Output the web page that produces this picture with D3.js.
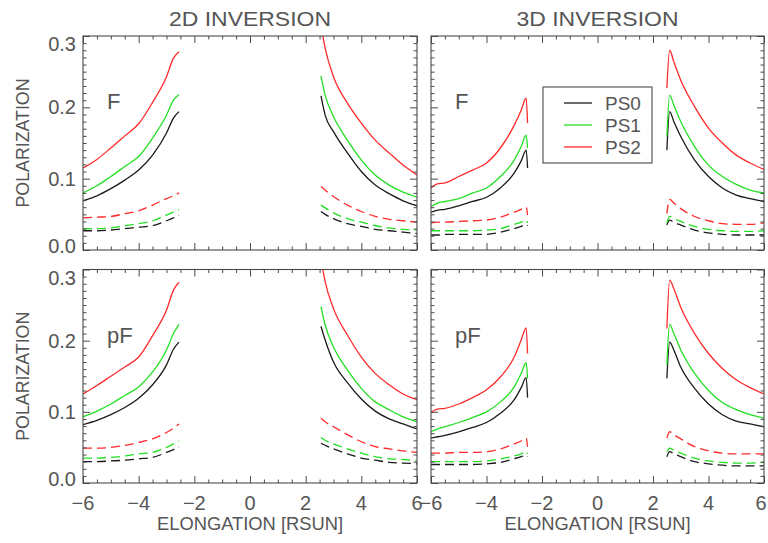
<!DOCTYPE html>
<html><head><meta charset="utf-8">
<script src="https://cdn.jsdelivr.net/npm/d3@7"></script>
<style>body{margin:0;background:#fff}svg{display:block}text{font-family:"Liberation Sans",Arial,sans-serif;fill:#555}</style>
</head><body>
<script>
// ---------- data ----------
const seriesNames = ["PS0", "PS1", "PS2"];
const panelTitles = ["2D INVERSION", "3D INVERSION"];
const panelLabels = ["F", "pF"];
const yTicks = [0.0, 0.1, 0.2, 0.3];
const yTickLabels = ["0.0", "0.1", "0.2", "0.3"];
const xTicks = [-6, -4, -2, 0, 2, 4, 6];
const xTickLabels = ["\u22126", "\u22124", "\u22122", "0", "2", "4", "6"];

const xLeft2D = [-6, -5.5, -5, -4.5, -4, -3.5, -3, -2.75, -2.55];
const xRight2D = [2.55, 2.7, 3, 3.5, 4, 4.5, 5, 5.5, 6];
const xLeft3D = [-6, -5.75, -5.5, -5, -4.5, -4, -3.5, -3, -2.75, -2.57, -2.52];
const xRight3D = [2.5, 2.6, 2.75, 3, 3.5, 4, 4.5, 5, 5.5, 6];

// 2D, F
const f2dL_PS0 = [0.069, 0.076, 0.086, 0.098, 0.112, 0.133, 0.164, 0.185, 0.194];
const f2dL_PS1 = [0.080, 0.090, 0.103, 0.117, 0.131, 0.157, 0.189, 0.210, 0.218];
const f2dL_PS2 = [0.115, 0.127, 0.143, 0.160, 0.177, 0.207, 0.243, 0.269, 0.278];
const f2dL_PS0d = [0.027, 0.027, 0.028, 0.030, 0.032, 0.034, 0.041, 0.045, 0.049];
const f2dL_PS1d = [0.030, 0.030, 0.031, 0.034, 0.037, 0.041, 0.049, 0.053, 0.057];
const f2dL_PS2d = [0.045, 0.046, 0.047, 0.051, 0.055, 0.063, 0.072, 0.076, 0.080];
const f2dR_PS0 = [0.216, 0.189, 0.166, 0.136, 0.110, 0.091, 0.079, 0.069, 0.062];
const f2dR_PS1 = [0.244, 0.217, 0.187, 0.154, 0.126, 0.105, 0.091, 0.081, 0.074];
const f2dR_PS2 = [0.315, 0.283, 0.243, 0.206, 0.178, 0.154, 0.136, 0.119, 0.105];
const f2dR_PS0d = [0.054, 0.050, 0.044, 0.037, 0.033, 0.029, 0.027, 0.025, 0.023];
const f2dR_PS1d = [0.063, 0.059, 0.052, 0.044, 0.039, 0.034, 0.031, 0.029, 0.028];
const f2dR_PS2d = [0.089, 0.084, 0.075, 0.063, 0.054, 0.047, 0.043, 0.041, 0.039];

// 2D, pF
const p2dL_PS0 = [0.082, 0.088, 0.096, 0.106, 0.119, 0.138, 0.166, 0.188, 0.198];
const p2dL_PS1 = [0.093, 0.101, 0.111, 0.123, 0.135, 0.156, 0.187, 0.210, 0.223];
const p2dL_PS2 = [0.125, 0.137, 0.150, 0.163, 0.177, 0.207, 0.243, 0.271, 0.282];
const p2dL_PS0d = [0.030, 0.030, 0.031, 0.032, 0.034, 0.036, 0.043, 0.047, 0.051];
const p2dL_PS1d = [0.035, 0.035, 0.036, 0.038, 0.041, 0.043, 0.050, 0.055, 0.059];
const p2dL_PS2d = [0.049, 0.049, 0.050, 0.053, 0.057, 0.062, 0.071, 0.077, 0.083];
const p2dR_PS0 = [0.220, 0.201, 0.170, 0.141, 0.118, 0.101, 0.090, 0.083, 0.076];
const p2dR_PS1 = [0.248, 0.222, 0.191, 0.159, 0.133, 0.114, 0.103, 0.093, 0.086];
const p2dR_PS2 = [0.315, 0.283, 0.245, 0.208, 0.177, 0.154, 0.138, 0.125, 0.117];
const p2dR_PS0d = [0.056, 0.053, 0.048, 0.041, 0.035, 0.032, 0.029, 0.028, 0.027];
const p2dR_PS1d = [0.064, 0.060, 0.055, 0.048, 0.042, 0.037, 0.034, 0.033, 0.031];
const p2dR_PS2d = [0.091, 0.086, 0.079, 0.068, 0.058, 0.051, 0.048, 0.045, 0.043];

// 3D, F
const f3dL_PS0 = [0.053, 0.056, 0.057, 0.062, 0.068, 0.074, 0.087, 0.108, 0.125, 0.140, 0.115];
const f3dL_PS1 = [0.061, 0.066, 0.068, 0.072, 0.080, 0.087, 0.103, 0.126, 0.145, 0.161, 0.143];
const f3dL_PS2 = [0.087, 0.093, 0.094, 0.103, 0.112, 0.122, 0.143, 0.175, 0.196, 0.213, 0.178];
const f3dL_PS0d = [0.021, 0.021, 0.022, 0.022, 0.022, 0.022, 0.025, 0.030, 0.033, 0.036, 0.034];
const f3dL_PS1d = [0.027, 0.027, 0.027, 0.027, 0.027, 0.028, 0.030, 0.036, 0.039, 0.042, 0.038];
const f3dL_PS2d = [0.038, 0.039, 0.039, 0.040, 0.041, 0.042, 0.046, 0.053, 0.057, 0.060, 0.049];
const f3dR_PS0 = [0.140, 0.194, 0.180, 0.159, 0.126, 0.103, 0.087, 0.077, 0.072, 0.068];
const f3dR_PS1 = [0.159, 0.217, 0.203, 0.180, 0.145, 0.119, 0.103, 0.092, 0.084, 0.080];
const f3dR_PS2 = [0.227, 0.280, 0.264, 0.238, 0.201, 0.171, 0.150, 0.133, 0.122, 0.113];
const f3dR_PS0d = [0.035, 0.042, 0.039, 0.035, 0.028, 0.024, 0.022, 0.021, 0.021, 0.021];
const f3dR_PS1d = [0.038, 0.047, 0.044, 0.040, 0.033, 0.029, 0.027, 0.026, 0.026, 0.027];
const f3dR_PS2d = [0.051, 0.071, 0.066, 0.058, 0.047, 0.041, 0.037, 0.036, 0.036, 0.038];

// 3D, pF
const p3dL_PS0 = [0.063, 0.065, 0.067, 0.072, 0.078, 0.085, 0.098, 0.117, 0.134, 0.148, 0.120];
const p3dL_PS1 = [0.072, 0.076, 0.079, 0.085, 0.092, 0.100, 0.114, 0.135, 0.154, 0.169, 0.147];
const p3dL_PS2 = [0.099, 0.104, 0.105, 0.111, 0.120, 0.131, 0.149, 0.177, 0.201, 0.218, 0.182];
const p3dL_PS0d = [0.026, 0.026, 0.026, 0.026, 0.026, 0.027, 0.029, 0.034, 0.037, 0.039, 0.037];
const p3dL_PS1d = [0.030, 0.030, 0.030, 0.030, 0.030, 0.031, 0.034, 0.038, 0.041, 0.044, 0.041];
const p3dL_PS2d = [0.042, 0.042, 0.042, 0.043, 0.043, 0.044, 0.048, 0.055, 0.059, 0.063, 0.051];
const p3dR_PS0 = [0.147, 0.198, 0.187, 0.163, 0.133, 0.111, 0.096, 0.087, 0.083, 0.079];
const p3dR_PS1 = [0.166, 0.223, 0.210, 0.187, 0.154, 0.130, 0.113, 0.103, 0.096, 0.091];
const p3dR_PS2 = [0.217, 0.285, 0.273, 0.247, 0.210, 0.182, 0.161, 0.145, 0.134, 0.125];
const p3dR_PS0d = [0.037, 0.044, 0.041, 0.037, 0.030, 0.027, 0.025, 0.024, 0.024, 0.024];
const p3dR_PS1d = [0.044, 0.049, 0.046, 0.042, 0.035, 0.031, 0.029, 0.028, 0.028, 0.029];
const p3dR_PS2d = [0.063, 0.072, 0.068, 0.062, 0.051, 0.045, 0.042, 0.041, 0.041, 0.041];

// ---------- assembly ----------
const panels = [
  {col: 0, row: 0, xl: xLeft2D, xr: xRight2D,
   solidL: [f2dL_PS0, f2dL_PS1, f2dL_PS2], dashL: [f2dL_PS0d, f2dL_PS1d, f2dL_PS2d],
   solidR: [f2dR_PS0, f2dR_PS1, f2dR_PS2], dashR: [f2dR_PS0d, f2dR_PS1d, f2dR_PS2d]},
  {col: 1, row: 0, xl: xLeft3D, xr: xRight3D,
   solidL: [f3dL_PS0, f3dL_PS1, f3dL_PS2], dashL: [f3dL_PS0d, f3dL_PS1d, f3dL_PS2d],
   solidR: [f3dR_PS0, f3dR_PS1, f3dR_PS2], dashR: [f3dR_PS0d, f3dR_PS1d, f3dR_PS2d]},
  {col: 0, row: 1, xl: xLeft2D, xr: xRight2D,
   solidL: [p2dL_PS0, p2dL_PS1, p2dL_PS2], dashL: [p2dL_PS0d, p2dL_PS1d, p2dL_PS2d],
   solidR: [p2dR_PS0, p2dR_PS1, p2dR_PS2], dashR: [p2dR_PS0d, p2dR_PS1d, p2dR_PS2d]},
  {col: 1, row: 1, xl: xLeft3D, xr: xRight3D,
   solidL: [p3dL_PS0, p3dL_PS1, p3dL_PS2], dashL: [p3dL_PS0d, p3dL_PS1d, p3dL_PS2d],
   solidR: [p3dR_PS0, p3dR_PS1, p3dR_PS2], dashR: [p3dR_PS0d, p3dR_PS1d, p3dR_PS2d]}
];

const colors = ["#1a1a1a", "#22e022", "#ff2a2a"];
const axisColor = "#4a4a4a";

const W = 768, H = 543;
const colX = [[83, 417], [431, 764]];
const rowY = [[36, 250], [269.5, 483]];

const svg = d3.select("body").append("svg").attr("width", W).attr("height", H);

panels.forEach((p, i) => {
  const [x0, x1] = colX[p.col];
  const [y0, y1] = rowY[p.row];
  const x = d3.scaleLinear().domain([-6, 6]).range([x0, x1]);
  const y = d3.scaleLinear().domain([0, 0.3]).range([y1, y0]);
  const g = svg.append("g");
  const clipId = "clip" + i;
  g.append("clipPath").attr("id", clipId).append("rect")
    .attr("x", x0).attr("y", y0).attr("width", x1 - x0).attr("height", y1 - y0);

  const line = d3.line().x(d => x(d[0])).y(d => y(d[1])).curve(d3.curveMonotoneX);
  const lines = g.append("g").attr("clip-path", `url(#${clipId})`);
  const draw = (xs, ys, color, dashed) => {
    lines.append("path").datum(xs.map((v, k) => [v, ys[k]]))
      .attr("d", line).attr("fill", "none").attr("stroke", color)
      .attr("stroke-width", 1.3)
      .attr("stroke-dasharray", dashed ? "9,5" : null);
  };
  [0, 1, 2].forEach(s => {
    draw(p.xl, p.dashL[s], colors[s], true);
    draw(p.xr, p.dashR[s], colors[s], true);
  });
  [0, 1, 2].forEach(s => {
    draw(p.xl, p.solidL[s], colors[s], false);
    draw(p.xr, p.solidR[s], colors[s], false);
  });

  // axes: ticks inward on all four sides
  const ax = g.append("g").attr("stroke", axisColor).attr("fill", "none");
  const majLen = 7, minLen = 3.5;
  const yMinor = d3.range(0, 31).map(k => k / 100);
  const xMinor = d3.range(-12, 13).map(k => k / 2);
  const yL = ax.append("g").attr("transform", `translate(${x0},0)`)
    .call(d3.axisRight(y).tickValues(yMinor).tickSizeInner(0).tickSizeOuter(0).tickFormat(""));
  yL.selectAll(".tick line").attr("x2", d => (Math.round(d * 100) % 10 === 0) ? majLen : minLen)
    .attr("stroke", axisColor);
  const yR = ax.append("g").attr("transform", `translate(${x1},0)`)
    .call(d3.axisLeft(y).tickValues(yMinor).tickSizeInner(0).tickSizeOuter(0).tickFormat(""));
  yR.selectAll(".tick line").attr("x2", d => (Math.round(d * 100) % 10 === 0) ? -majLen : -minLen)
    .attr("stroke", axisColor);
  const xB = ax.append("g").attr("transform", `translate(0,${y1})`)
    .call(d3.axisTop(x).tickValues(xMinor).tickSizeInner(0).tickSizeOuter(0).tickFormat(""));
  xB.selectAll(".tick line").attr("y2", d => (Math.round(d * 2) % 4 === 0) ? -majLen : -minLen)
    .attr("stroke", axisColor);
  const xT = ax.append("g").attr("transform", `translate(0,${y0})`)
    .call(d3.axisBottom(x).tickValues(xMinor).tickSizeInner(0).tickSizeOuter(0).tickFormat(""));
  xT.selectAll(".tick line").attr("y2", d => (Math.round(d * 2) % 4 === 0) ? majLen : minLen)
    .attr("stroke", axisColor);
  ax.selectAll(".domain").remove();
  ax.append("rect").attr("x", x0).attr("y", y0).attr("width", x1 - x0).attr("height", y1 - y0)
    .attr("stroke", axisColor).attr("stroke-width", 1.1).attr("fill", "none");

  // y tick labels (left column only)
  if (p.col === 0) {
    yTicks.forEach((v, k) => {
      const off = v === 0.3 ? 8 : (v === 0 ? -4 : 0);
      g.append("text").attr("x", x0 - 7).attr("y", y(v) + off)
        .attr("text-anchor", "end").attr("dominant-baseline", "central")
        .attr("font-size", 20).text(yTickLabels[k]);
    });
    const cy = (y0 + y1) / 2;
    g.append("text").attr("transform", `translate(23,${cy}) rotate(-90)`)
      .attr("text-anchor", "middle").attr("dominant-baseline", "central")
      .attr("font-size", 18).attr("textLength", 129).attr("lengthAdjust", "spacingAndGlyphs")
      .text("POLARIZATION");
  }
  // x tick labels (bottom row only)
  if (p.row === 1) {
    xTicks.forEach((v, k) => {
      const last = p.col === 1 && k === xTicks.length - 1;
      g.append("text").attr("x", last ? x(v) - 3 : x(v)).attr("y", 510)
        .attr("text-anchor", "middle").attr("font-size", 20).text(xTickLabels[k]);
    });
    g.append("text").attr("x", (x0 + x1) / 2).attr("y", 530)
      .attr("text-anchor", "middle").attr("font-size", 19)
      .attr("textLength", 186).attr("lengthAdjust", "spacingAndGlyphs")
      .text("ELONGATION [RSUN]");
  }
  // titles
  if (p.row === 0) {
    g.append("text").attr("x", (x0 + x1) / 2).attr("y", 26)
      .attr("text-anchor", "middle").attr("font-size", 20)
      .attr("textLength", 162).attr("lengthAdjust", "spacingAndGlyphs")
      .text(panelTitles[p.col]);
  }
  // panel label
  g.append("text").attr("x", x0 + 24).attr("y", y0 + 73)
    .attr("font-size", 22).text(panelLabels[p.row]);
});

// legend
const lg = svg.append("g");
lg.append("rect").attr("x", 543).attr("y", 87).attr("width", 109).attr("height", 76)
  .attr("fill", "#fff").attr("stroke", axisColor).attr("stroke-width", 1.1);
seriesNames.forEach((n, k) => {
  const yy = 103 + k * 22;
  lg.append("line").attr("x1", 564).attr("x2", 592).attr("y1", yy).attr("y2", yy)
    .attr("stroke", colors[k]).attr("stroke-width", 1.3);
  lg.append("text").attr("x", 605).attr("y", yy).attr("dominant-baseline", "central")
    .attr("font-size", 19).text(n);
});
</script>
</body></html>
